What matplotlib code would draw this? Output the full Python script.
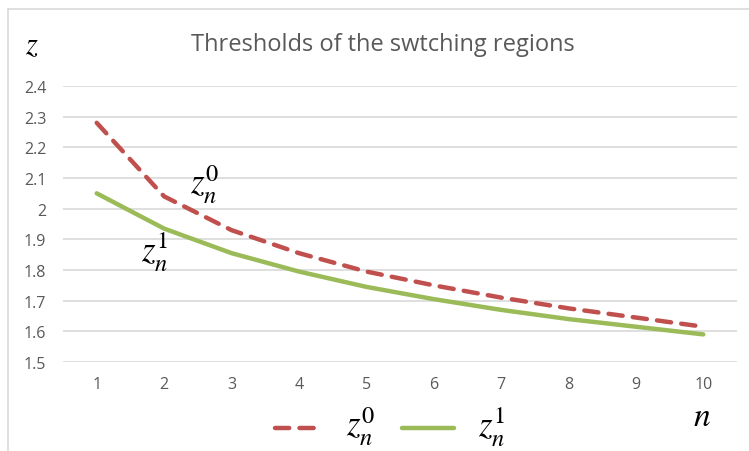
import numpy as np
import matplotlib.pyplot as plt
from matplotlib.lines import Line2D

plt.rcParams['mathtext.fontset'] = 'stix'
plt.rcParams['font.family'] = ['Open Sans', 'DejaVu Sans']

# Data
n_values = [1, 2, 3, 4, 5, 6, 7, 8, 9, 10]
z0 = [2.28, 2.04, 1.93, 1.855, 1.795, 1.75, 1.71, 1.675, 1.645, 1.615]
z1 = [2.05, 1.935, 1.855, 1.795, 1.745, 1.705, 1.67, 1.64, 1.615, 1.59]
y_ticks = [1.5, 1.6, 1.7, 1.8, 1.9, 2.0, 2.1, 2.2, 2.3, 2.4]
y_labels = ['1.5', '1.6', '1.7', '1.8', '1.9', '2', '2.1', '2.2', '2.3', '2.4']

W, H = 749, 452
fig = plt.figure(figsize=(W / 100, H / 100), dpi=100)
# plot area in pixels: x 63..737, y 87..363
ax = fig.add_axes([63 / W, 1 - 363 / H, (737 - 63) / W, (363 - 87) / H])

red = '#C0504D'
green = '#9BBB59'
grey = '#595959'

ax.plot(n_values, z0, color=red, lw=3.2, linestyle=(0, (3.2, 2.3)),
        dash_capstyle='round', solid_capstyle='round')
ax.plot(n_values, z1, color=green, lw=3.2, solid_capstyle='round')

ax.set_xlim(0.5, 10.5)
ax.set_ylim(1.5, 2.4)
ax.set_yticks(y_ticks)
ax.set_yticklabels(y_labels)
ax.set_xticks(n_values)
ax.grid(axis='y', color='#D9D9D9', lw=1.2)
ax.set_axisbelow(True)
for s in ax.spines.values():
    s.set_visible(False)
ax.tick_params(length=0, labelsize=11.5, labelcolor=grey)
ax.tick_params(axis='y', pad=12)
ax.tick_params(axis='x', pad=10)

# chart border (top and left visible)
fig.add_artist(Line2D([8 / W, 8 / W], [0, 1 - 10 / H], color='#D9D9D9', lw=1.2))
fig.add_artist(Line2D([8 / W, 1], [1 - 10 / H, 1 - 10 / H], color='#D9D9D9', lw=1.2))

fig.text(383 / W, 1 - 45 / H, 'Thresholds of the swtching regions',
         ha='center', va='center', fontsize=17, color=grey)
fig.text(32 / W, 1 - 46 / H, r'$z$', ha='center', va='center', fontsize=22)
fig.text(702 / W, 1 - 417 / H, r'$n$', ha='center', va='center', fontsize=24)

# curve labels
fig.text(205 / W, 1 - 185 / H, r'$z_n^0$', ha='center', va='center', fontsize=25)
fig.text(155 / W, 1 - 252 / H, r'$z_n^1$', ha='center', va='center', fontsize=25)

# legend
ly = 1 - 429 / H
fig.add_artist(Line2D([275 / W, 323 / W], [ly, ly], color=red, lw=3.2,
                      linestyle=(0, (3.2, 2.3)), dash_capstyle='round'))
fig.text(361 / W, 1 - 427 / H, r'$z_n^0$', ha='center', va='center', fontsize=25)
fig.add_artist(Line2D([402 / W, 454 / W], [ly, ly], color=green, lw=3.2,
                      solid_capstyle='round'))
fig.text(492 / W, 1 - 427 / H, r'$z_n^1$', ha='center', va='center', fontsize=25)

fig.savefig('out.png', dpi=100)
